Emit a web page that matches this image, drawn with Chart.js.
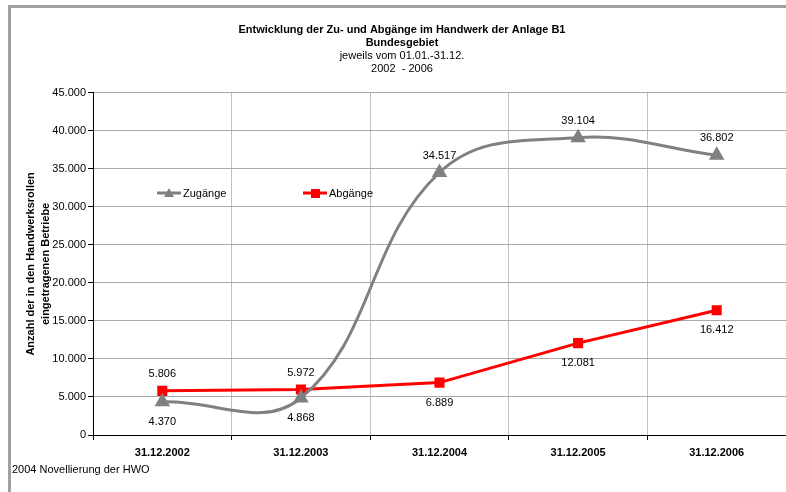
<!DOCTYPE html>
<html>
<head>
<meta charset="utf-8">
<script src="https://cdn.jsdelivr.net/npm/chart.js@4"></script>
<style>
  html, body { margin: 0; padding: 0; background: #fff; }
  #wrap { width: 786px; height: 492px; }
</style>
</head>
<body>
<div id="wrap"><canvas id="lineChart" width="786" height="492"></canvas></div>
<script>
const jahre = ['31.12.2002', '31.12.2003', '31.12.2004', '31.12.2005', '31.12.2006'];
const zugaenge = [4370, 4868, 34517, 39104, 36802];
const abgaenge = [5806, 5972, 6889, 12081, 16412];
const yTicks = [0, 5000, 10000, 15000, 20000, 25000, 30000, 35000, 40000, 45000];

const FONT = "'Liberation Sans', Arial, sans-serif";

function fmt(v) {
    return String(v).replace(/\B(?=(\d{3})+(?!\d))/g, '.');
}

// Rahmen, Fussnote, Legende im Diagramm, Werte an den Punkten
const extras = {
    id: 'extras',
    beforeDraw(chart) {
        const c = chart.ctx;
        c.save();
        c.fillStyle = '#a0a0a0';
        c.fillRect(8, 5, 3, 492);
        c.fillRect(8, 5, 786, 3);
        c.restore();
    },
    afterDatasetsDraw(chart) {
        const c = chart.ctx;
        c.save();
        c.font = '11px ' + FONT;
        c.fillStyle = '#000';
        c.textAlign = 'center';
        c.textBaseline = 'middle';
        chart.data.datasets.forEach((ds, i) => {
            chart.getDatasetMeta(i).data.forEach((pt, j) => {
                const dy = ds.labelPos[j] === 'up' ? -17 : 20;
                c.fillText(fmt(ds.data[j]), pt.x, pt.y + dy);
            });
        });

        // Legende
        const legendY = 193;
        const items = [[157, 0], [303, 1]];
        items.forEach(([x, i]) => {
            const ds = chart.data.datasets[i];
            c.strokeStyle = ds.borderColor;
            c.lineWidth = 3;
            c.beginPath();
            c.moveTo(x, legendY);
            c.lineTo(x + 24, legendY);
            c.stroke();
            c.fillStyle = ds.borderColor;
            if (ds.pointStyle === 'triangle') {
                c.beginPath();
                c.moveTo(x + 12, legendY - 5);
                c.lineTo(x + 17, legendY + 4);
                c.lineTo(x + 7, legendY + 4);
                c.closePath();
                c.fill();
            } else {
                c.fillRect(x + 8, legendY - 4, 9, 9);
            }
            c.fillStyle = '#000';
            c.textAlign = 'left';
            c.fillText(ds.label, x + 26, legendY + 1);
        });

        c.font = '11px ' + FONT;
        c.textAlign = 'left';
        c.fillText('2004 Novellierung der HWO', 12, 470);
        c.restore();
    }
};

const ctx = document.getElementById('lineChart').getContext('2d');
new Chart(ctx, {
    type: 'line',
    data: {
        labels: jahre,
        datasets: [
            {
                label: 'Zugänge',
                data: zugaenge,
                borderColor: '#808080',
                backgroundColor: '#808080',
                borderWidth: 3,
                pointStyle: 'triangle',
                pointRadius: 6,
                pointHoverRadius: 6,
                tension: 0.4,
                labelPos: ['down', 'down', 'up', 'up', 'up']
            },
            {
                label: 'Abgänge',
                data: abgaenge,
                borderColor: '#ff0000',
                backgroundColor: '#ff0000',
                borderWidth: 3,
                pointStyle: 'rect',
                pointRadius: 5,
                pointHoverRadius: 5,
                tension: 0,
                labelPos: ['up', 'up', 'down', 'down', 'down']
            }
        ]
    },
    options: {
        responsive: false,
        animation: false,
        layout: { autoPadding: false, padding: { top: 8, left: 18, right: 0, bottom: 0 } },
        plugins: {
            legend: { display: false },
            tooltip: { enabled: false },
            title: {
                display: true,
                text: ['Entwicklung der Zu- und Abgänge im Handwerk der Anlage B1', 'Bundesgebiet'],
                color: '#000',
                font: { family: FONT, size: 11, weight: 'bold', lineHeight: 1.2 },
                padding: { top: 15, bottom: 0 }
            },
            subtitle: {
                display: true,
                text: ['jeweils vom 01.01.-31.12.', '2002  - 2006'],
                color: '#000',
                font: { family: FONT, size: 11, lineHeight: 1.2 },
                padding: { top: 0, bottom: 17 }
            }
        },
        scales: {
            x: {
                offset: true,
                afterFit(scale) {
                    scale.height = 57;
                    scale.paddingRight = 0;
                    scale.paddingLeft = 0;
                },
                grid: {
                    color: '#c0c0c0',
                    tickColor: '#000',
                    tickLength: 5,
                    offset: true
                },
                border: { color: '#000', width: 1 },
                ticks: {
                    color: '#000',
                    font: { family: FONT, size: 11, weight: 'bold' },
                    padding: 6,
                    maxRotation: 0
                }
            },
            y: {
                min: 0,
                max: 45000,
                afterFit(scale) { scale.width = 75; },
                afterBuildTicks(scale) { scale.ticks = yTicks.map(v => ({ value: v })); },
                grid: {
                    color: '#a8a8a8',
                    tickColor: '#000',
                    tickLength: 5
                },
                border: { color: '#000', width: 1 },
                ticks: {
                    color: '#000',
                    font: { family: FONT, size: 11 },
                    padding: 2,
                    callback: v => fmt(v)
                },
                title: {
                    display: true,
                    text: ['Anzahl der in den Handwerksrollen', 'eingetragenen Betriebe'],
                    color: '#000',
                    font: { family: FONT, size: 11, weight: 'bold', lineHeight: 1.35 },
                    padding: { top: 6, bottom: 0 }
                }
            }
        }
    },
    plugins: [extras]
});
</script>
</body>
</html>
